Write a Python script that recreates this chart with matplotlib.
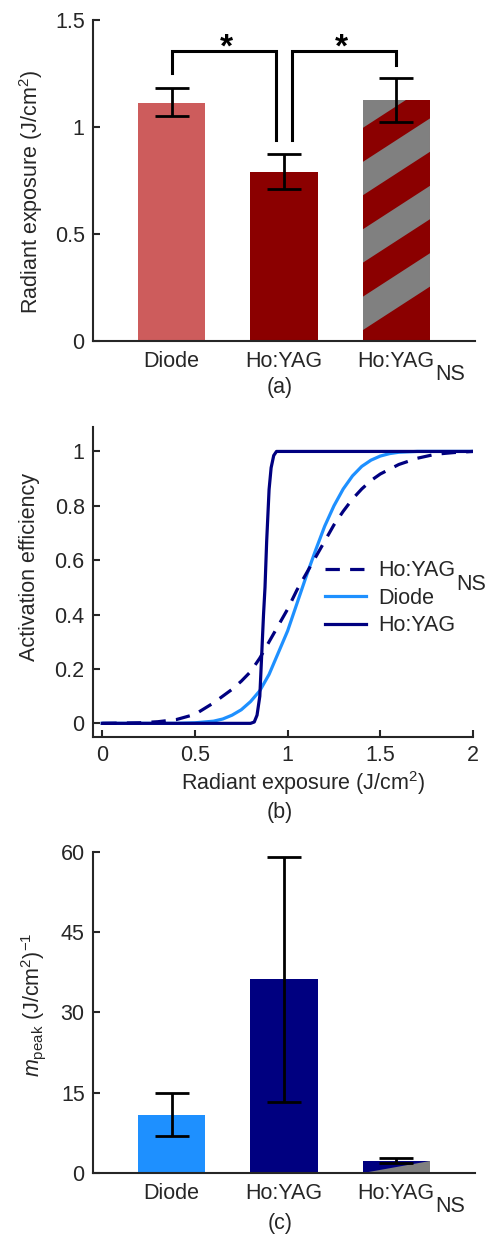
import matplotlib
matplotlib.use('Agg')
import matplotlib.pyplot as plt
from matplotlib.patches import Polygon

plt.rcParams['font.family'] = ['Liberation Sans', 'DejaVu Sans']
plt.rcParams['mathtext.fontset'] = 'custom'
plt.rcParams['mathtext.rm'] = 'Liberation Sans'
plt.rcParams['mathtext.it'] = 'Liberation Sans:italic'
plt.rcParams['mathtext.bf'] = 'Liberation Sans:bold'

# ---- data ----
groups = ['Diode', 'Ho:YAG', 'Ho:YAG']   # third one gets an "NS" subscript
xpos = [1, 2, 3]

# (a) threshold radiant exposure, J/cm^2
radiant = [1.11, 0.79, 1.125]
radiant_lo = [1.05, 0.71, 1.025]
radiant_hi = [1.18, 0.875, 1.23]

# significance brackets (a)
bracket_x = [[1, 1, 1.93, 1.93], [2.07, 2.07, 3, 3]]
bracket_y = [[1.25, 1.355, 1.355, 0.94], [0.94, 1.355, 1.355, 1.29]]
star_x = [1.49, 2.51]
star_y = [1.37, 1.37]

# (b) activation efficiency curves
diode_x = [0, 0.4, 0.5, 0.6, 0.65, 0.7, 0.75, 0.8, 0.85, 0.9, 0.95, 1.0, 1.05,
           1.1, 1.15, 1.2, 1.25, 1.3, 1.35, 1.4, 1.45, 1.5, 1.55, 1.6, 1.7, 2.0]
diode_y = [0, 0, 0.002, 0.008, 0.016, 0.03, 0.05, 0.08, 0.12, 0.18, 0.26, 0.34, 0.44,
           0.54, 0.635, 0.725, 0.80, 0.862, 0.91, 0.945, 0.968, 0.983, 0.992, 0.997, 1.0, 1.0]

hoyag_x = [0, 0.80, 0.82, 0.835, 0.85, 0.86, 0.87, 0.878, 0.887, 0.90, 0.911, 0.925, 0.94, 2.0]
hoyag_y = [0, 0, 0.005, 0.03, 0.10, 0.25, 0.40, 0.50, 0.67, 0.86, 0.94, 0.985, 1.0, 1.0]

ns_x = [0, 0.2, 0.3, 0.4, 0.5, 0.6, 0.65, 0.7, 0.75, 0.8, 0.85, 0.9, 0.95, 1.0, 1.05,
        1.1, 1.15, 1.2, 1.25, 1.3, 1.35, 1.4, 1.45, 1.5, 1.6, 1.7, 1.8, 1.9, 2.0]
ns_y = [0, 0.002, 0.006, 0.014, 0.033, 0.075, 0.10, 0.125, 0.155, 0.19, 0.24, 0.30, 0.36,
        0.42, 0.49, 0.55, 0.61, 0.67, 0.73, 0.78, 0.825, 0.862, 0.893, 0.917, 0.952,
        0.975, 0.99, 0.996, 1.0]

# (c) peak slope
mpeak = [10.8, 36.2, 2.3]
mpeak_lo = [6.9, 13.3, 1.9]
mpeak_hi = [14.9, 59.1, 2.8]

# ---- styling ----
AX_COL = '#262626'
GRAY = '#808080'
RED_LIGHT = '#CD5C5C'
RED_DARK = '#8B0000'
BLUE_LIGHT = '#1E90FF'
NAVY = '#000080'
FS = 15.5


def style_axes(ax):
    for s in ['top', 'right']:
        ax.spines[s].set_visible(False)
    for s in ['left', 'bottom']:
        ax.spines[s].set_linewidth(1.5)
        ax.spines[s].set_color(AX_COL)
    ax.tick_params(direction='in', length=5, width=1.5, colors=AX_COL,
                   labelsize=FS, pad=6)


def add_ns(ax, text_artist, dy=-6):
    # full size lowered "NS" after a text, like the original figure
    ax.annotate('NS', xy=(1, 0), xycoords=text_artist, xytext=(0.5, dy),
                textcoords='offset points', ha='left', va='baseline',
                fontsize=FS, color=AX_COL, zorder=10)


def errbars(ax, vals, lo, hi):
    yerr = [[v - l for v, l in zip(vals, lo)], [h - v for v, h in zip(vals, hi)]]
    ax.errorbar(xpos, vals, yerr=yerr, fmt='none', ecolor='k', elinewidth=2,
                capsize=12, capthick=2, zorder=4)


def bar_axes_common(ax):
    ax.set_xlim(0.3, 3.7)
    ax.set_xticks(xpos, groups)
    ax.tick_params(axis='x', length=0, pad=7)
    add_ns(ax, ax.get_xticklabels()[2])


fig = plt.figure(figsize=(4.89, 12.34), dpi=100)
ax_a = fig.add_axes([0.1902, 0.7237, 0.781, 0.2601])
ax_b = fig.add_axes([0.1902, 0.4028, 0.777, 0.2512])
ax_c = fig.add_axes([0.1902, 0.0494, 0.781, 0.2604])

# ---- (a) ----
style_axes(ax_a)
bars = ax_a.bar(xpos, radiant, width=0.6, color=[RED_LIGHT, RED_DARK, RED_DARK], zorder=1)
# diagonal gray stripes on the NS bar
stripe_start, stripe_period, stripe_width, stripe_slope = 0.05, 0.315, 0.156, 0.34
p = bars.patches[2]
x0, w, h = p.get_x(), p.get_width(), p.get_height()
s = stripe_start
while s < h:
    poly = Polygon([(x0, s), (x0 + w, s + stripe_slope * w),
                    (x0 + w, s + stripe_slope * w + stripe_width), (x0, s + stripe_width)],
                   closed=True, fc=GRAY, ec='none', zorder=2)
    ax_a.add_patch(poly)
    poly.set_clip_path(p)
    s += stripe_period
errbars(ax_a, radiant, radiant_lo, radiant_hi)
for bx, by in zip(bracket_x, bracket_y):
    ax_a.plot(bx, by, color='k', lw=2.2, solid_joinstyle='miter', zorder=4)
for sx, sy in zip(star_x, star_y):
    ax_a.text(sx, sy, '*', ha='center', va='center', fontsize=24, fontweight='bold')
ax_a.set_ylim(0, 1.5)
ax_a.set_yticks([0, 0.5, 1, 1.5], ['0', '0.5', '1', '1.5'])
bar_axes_common(ax_a)
ax_a.set_ylabel('Radiant exposure (J/cm$^2$)', fontsize=FS, color=AX_COL, va='center')
ax_a.yaxis.set_label_coords(-0.162, 0.464)
fig.text(0.572, 0.6856, '(a)', ha='center', va='center', fontsize=FS, color=AX_COL)

# ---- (b) ----
style_axes(ax_b)
l_diode, = ax_b.plot(diode_x, diode_y, color=BLUE_LIGHT, lw=2.3)
l_hoyag, = ax_b.plot(hoyag_x, hoyag_y, color=NAVY, lw=2.3)
l_ns, = ax_b.plot(ns_x, ns_y, color=NAVY, lw=2.3, ls=(0, (4.5, 3.2)))
ax_b.set_xlim(-0.05, 2)
ax_b.set_ylim(-0.05, 1.09)
ax_b.set_xticks([0, 0.5, 1, 1.5, 2], ['0', '0.5', '1', '1.5', '2'])
ax_b.set_yticks([0, 0.2, 0.4, 0.6, 0.8, 1], ['0', '0.2', '0.4', '0.6', '0.8', '1'])
ax_b.set_ylabel('Activation efficiency', fontsize=FS, color=AX_COL, va='center')
ax_b.yaxis.set_label_coords(-0.166, 0.548)
ax_b.set_xlabel('Radiant exposure (J/cm$^2$)', fontsize=FS, color=AX_COL, va='center')
ax_b.xaxis.set_label_coords(0.553, -0.148)
leg = ax_b.legend([l_ns, l_diode, l_hoyag], ['Ho:YAG', 'Diode', 'Ho:YAG'],
                  loc='upper left', bbox_to_anchor=(0.61, 0.57), frameon=False,
                  fontsize=FS, handlelength=1.9, handletextpad=0.6,
                  labelspacing=0.3, borderpad=0, borderaxespad=0)
for t in leg.get_texts():
    t.set_color(AX_COL)
add_ns(ax_b, leg.get_texts()[0])
fig.text(0.572, 0.3412, '(b)', ha='center', va='center', fontsize=FS, color=AX_COL)

# ---- (c) ----
style_axes(ax_c)
bars_c = ax_c.bar(xpos, mpeak, width=0.6, color=[BLUE_LIGHT, NAVY, NAVY], zorder=1)
p = bars_c.patches[2]
x0, w, h = p.get_x(), p.get_width(), p.get_height()
ax_c.add_patch(Polygon([(x0, 0), (x0 + w, 0), (x0 + w, h)], closed=True,
                       fc=GRAY, ec='none', zorder=2))
errbars(ax_c, mpeak, mpeak_lo, mpeak_hi)
ax_c.set_ylim(0, 60)
ax_c.set_yticks([0, 15, 30, 45, 60])
bar_axes_common(ax_c)
ax_c.set_ylabel(r'$\mathit{m}_{\mathrm{peak}}$ (J/cm$^2$)$^{-1}$', fontsize=FS,
                color=AX_COL, va='center')
ax_c.yaxis.set_label_coords(-0.157, 0.523)
fig.text(0.572, 0.0089, '(c)', ha='center', va='center', fontsize=FS, color=AX_COL)

fig.savefig('out.png', dpi=100)
